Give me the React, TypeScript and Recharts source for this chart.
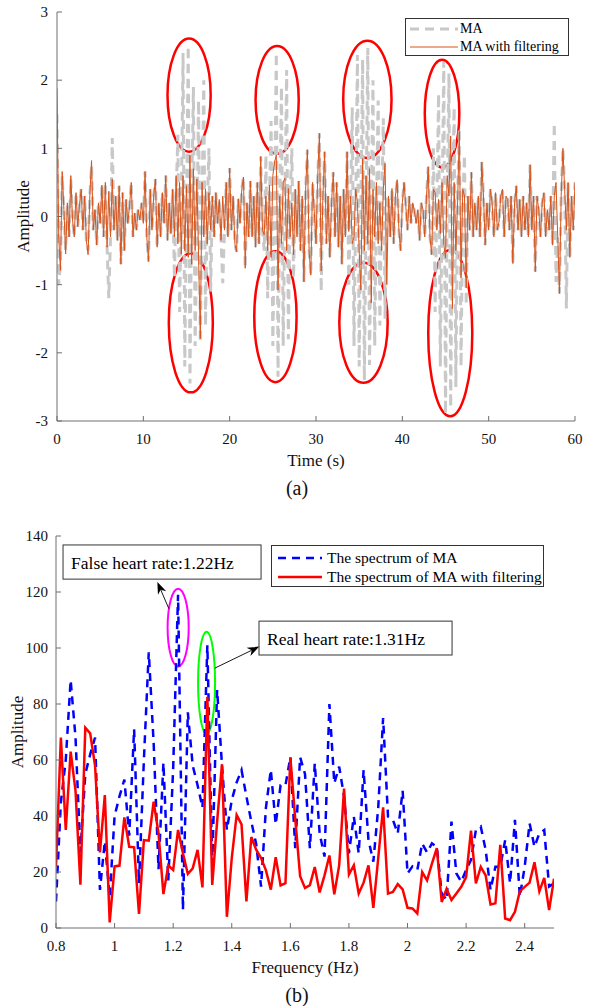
import React from 'react';
import { LineChart, Line, XAxis, YAxis, ReferenceArea, ReferenceLine, Legend } from 'recharts';

const FONT = '"Liberation Serif", "Times New Roman", Times, serif';

// ---------- (a) time-domain signal, sampled every 0.2 s over 60 s ----------
const SAMPLE_STEP_S = 0.2;
const MA = [
  1.5, -1.0, -0.7, 0.6, 0.1, -0.5, 0.2, -0.3, 0.55, -0.05,
  -0.3, 0.35, -0.15, 0.17, 0.4, -0.2, 0.3, -0.35, -0.5, 0.3,
  0.75, -0.2, 0.1, -0.42, 0.2, -0.1, 0.46, -0.3, 0.5, -0.45,
  -1.2, -0.3, 1.15, -0.2, 0.3, -0.35, 0.45, -0.7, 0.35, -0.5,
  0.25, -0.1, 0.15, 0.5, -0.3, 0.05, -0.2, 0.1, -0.05, 0.2,
  -0.1, 0.66, -0.3, -0.66, 0.4, -0.2, 0.3, 0.55, -0.45, 0.2,
  -0.3, 0.35, -0.1, 0.6, -0.35, 0.2, -0.25, 0.4, -0.9, 0.3,
  1.2, -1.4, 0.2, 2.4, -2.2, 0.1, 2.5, -2.45, 0.3, 1.9,
  -1.9, -0.2, 1.7, -1.85, 0.2, 2.0, -1.6, 0.1, 1.0, -1.1,
  0.3, -0.3, 0.35, -0.1, 0.25, -0.35, -0.98, -0.2, 0.5, -0.3,
  0.71, -0.2, 0.3, -0.4, -0.52, 0.26, -0.1, 0.4, 0.58, -0.76,
  0.2, -0.3, 0.52, -0.3, 0.3, -0.45, 0.5, -0.4, 0.88, -0.2,
  -0.5, 0.9, -1.2, 0.2, 1.4, -1.9, 0.1, 2.4, -2.35, 0.2,
  1.9, -1.9, 0.1, 2.15, -1.8, 0.3, 1.0, -0.9, 0.4, -0.3,
  0.52, -0.5, 0.3, -0.96, 0.4, 0.98, -0.5, -0.86, 0.5, 0.07,
  -0.4, 0.6, 1.22, -1.1, 0.3, 0.95, -0.4, 0.3, -0.6, 0.2,
  0.65, -0.3, 0.5, -0.45, 0.3, -0.7, 0.4, -0.3, 0.95, -1.0,
  0.2, 1.6, -1.9, 0.1, 2.37, -2.2, 0.2, 2.3, -2.4, 0.1,
  2.47, -2.18, 0.2, 2.0, -1.9, 0.1, 1.7, -1.6, 0.2, 1.44,
  -1.5, 0.3, 0.3, -0.3, 0.41, -0.4, 0.3, 0.54, -0.2, -0.5,
  0.2, 0.5, 0.16, -0.2, 0.3, -0.1, 0.2, 0.08, -0.1, 0.1,
  -0.35, 0.2, 0.1, -0.3, 0.3, 0.73, -0.3, -0.56, 1.0, -1.4,
  0.2, 1.8, -2.2, 0.1, 2.27, -2.9, 0.3, 2.1, -2.8, 0.2,
  1.6, -2.5, 0.3, 1.3, -2.2, 0.2, 0.9, -1.3, 0.3, -0.2,
  0.65, -0.3, 0.2, -0.2, 0.3, -0.3, 0.8, 0.3, -0.42, 0.2,
  -0.2, 0.4, 0.2, -0.3, 0.35, -0.2, -0.08, 0.3, 0.4, -0.3,
  0.3, 0.25, -0.2, 0.3, -0.69, 0.2, 0.45, -0.2, 0.25, -0.3,
  0.3, -0.2, 0.2, -0.3, 0.76, -0.2, 0.3, -0.81, 0.3, 0.1,
  -0.3, 0.2, 0.35, -0.3, 0.1, -0.2, 0.3, -0.42, 1.37, -0.96,
  -0.3, -1.13, 0.3, 1.0, 0.4, -1.35, 0.5, -0.6, 0.3, -0.2,
  0.5,
];
const MA_FILTERED = [
  1.88, -0.3, -0.79, 0.66, 0.1, -0.55, 0.2, -0.3, 0.6, -0.05,
  -0.3, 0.35, -0.15, 0.17, 0.4, -0.2, 0.3, -0.35, -0.56, 0.3,
  0.82, -0.2, 0.1, -0.42, 0.2, -0.1, 0.46, -0.3, 0.5, -0.45,
  0.37, -0.3, 0.55, -0.2, 0.3, -0.35, 0.45, -0.7, 0.35, -0.5,
  0.25, -0.1, 0.15, 0.5, -0.3, 0.05, -0.2, 0.1, -0.05, 0.2,
  -0.1, 0.66, -0.3, -0.66, 0.4, -0.2, 0.3, 0.55, -0.45, 0.2,
  -0.3, 0.35, -0.1, 0.6, -0.35, 0.2, -0.25, 0.4, -0.3, 0.6,
  -0.4, 0.5, -0.55, 0.6, -0.5, 0.45, -0.6, 0.9, -0.7, 0.7,
  -0.5, 0.55, -0.6, -1.79, 0.5, -0.3, 0.4, -0.4, 0.35, -0.2,
  0.3, -0.3, 0.35, -0.1, 0.25, -0.35, 0.3, -0.2, 0.5, -0.3,
  0.71, -0.2, 0.3, -0.4, -0.52, 0.26, -0.1, 0.4, 0.58, -0.76,
  0.2, -0.3, 0.52, -0.3, 0.3, -0.45, 0.5, -0.4, 0.88, -0.2,
  -0.27, 0.3, -0.5, 0.46, -0.6, 0.6, 0.8, 0.9, -1.08, 0.3,
  -0.4, 0.5, 0.56, -0.5, 0.41, -0.3, 0.2, -0.56, 0.4, -0.3,
  0.52, -0.5, 0.3, -0.96, 0.4, 0.98, -0.5, -0.86, 0.5, 0.07,
  -0.4, 0.6, 1.22, -0.8, 0.3, 0.95, -0.4, 0.3, -0.6, 0.2,
  0.65, -0.3, 0.5, -0.45, 0.3, -0.7, 0.4, -0.3, 0.95, -0.22,
  0.3, -0.4, -0.3, 0.4, 0.2, -0.5, -1.08, 0.85, -0.5, 0.6,
  -0.4, 0.7, -1.27, 0.4, -0.3, 0.5, -0.4, 0.2, -0.5, 0.4,
  0.78, -1.0, 0.3, -0.3, 0.41, -0.4, 0.3, 0.54, -0.2, -0.5,
  0.2, 0.5, 0.16, -0.2, 0.3, -0.1, 0.2, 0.08, -0.1, 0.1,
  -0.35, 0.2, 0.1, -0.3, 0.3, 0.73, -0.3, -0.56, 0.4, 0.35,
  -0.2, 0.25, -0.25, 0.5, -0.4, -0.61, 0.6, 0.3, 1.18, -1.35,
  0.5, -0.5, 0.2, 1.25, -0.9, 0.4, 0.3, -1.05, 0.3, -0.2,
  0.65, -0.3, 0.2, -0.2, 0.3, -0.3, 0.8, 0.3, -0.42, 0.2,
  -0.2, 0.4, 0.2, -0.3, 0.35, -0.2, -0.08, 0.3, 0.4, -0.3,
  0.3, 0.25, -0.2, 0.3, -0.69, 0.2, 0.45, -0.2, 0.25, -0.3,
  0.3, -0.2, 0.2, -0.3, 0.76, -0.2, 0.3, -0.81, 0.3, 0.1,
  -0.3, 0.2, 0.35, -0.3, 0.1, -0.2, 0.3, -0.42, 0.3, 0.5,
  -0.3, -1.13, 0.3, 1.0, 0.4, -0.2, 0.5, -0.6, 0.3, -0.2,
  0.5,
];
const TIME_TICKS = [0, 10, 20, 30, 40, 50, 60];
const AMP_TICKS_A = [-3, -2, -1, 0, 1, 2, 3];

// MA bursts circled in red: [t1, t2, amp1, amp2]
const BURSTS_A = [
  [12.8, 17.8, 0.95, 2.61],
  [23.0, 28.0, 0.92, 2.5],
  [33.15, 38.75, 0.86, 2.58],
  [42.6, 46.6, 0.72, 2.3],
  [12.95, 18.05, -2.58, -0.54],
  [22.85, 27.75, -2.43, -0.51],
  [32.7, 38.3, -2.44, -0.68],
  [43.0, 48.1, -2.93, -0.49],
];

// ---------- (b) spectrum, FFT bins k/60 Hz for k = 48..150 ----------
const WINDOW_S = 60;
const FIRST_BIN = 48;
const SPEC_MA = [
  9.5, 45, 60, 88.5, 68, 27, 55, 62, 68, 13.6,
  31, 11, 40, 47, 53, 33, 71, 16, 60, 98.5,
  66, 21, 59, 17, 57, 119, 6.5, 77, 58, 51,
  43, 101, 23, 85, 58, 35, 45.7, 52, 56.4, 47,
  38, 30, 14.8, 43, 56.5, 37, 51, 51, 61, 28.5,
  61, 55, 28.5, 58.8, 33.8, 25.5, 80, 51.7, 57.6, 47,
  26.7, 39.8, 26.7, 56.4, 31.4, 23.7, 43, 75, 39.8, 38.6,
  33.8, 49, 19.5, 22, 20.7, 30.2, 27, 30.2, 29, 12.4,
  10, 38, 19.5, 16.5, 20.7, 24.3, 35, 36.2, 27.9, 13.6,
  21.9, 21.9, 31.4, 16, 38.6, 11.2, 21.9, 37.4, 29, 33.8,
  35, 14.8, 16,
];
const SPEC_MA_FILTERED = [
  22, 68, 35, 63, 49, 15.5, 71.5, 69.5, 58, 27,
  47.5, 2, 22, 22.3, 39.5, 29, 28.8, 5, 31.4, 31.2,
  45.1, 33.8, 12.1, 22.3, 20.7, 35, 26.7, 19.3, 21.3, 27.9,
  14.5, 82.6, 15.4, 38, 58.5, 4, 25, 40.4, 37, 9.5,
  32.5, 28, 25, 20.6, 13.7, 25.3, 15.2, 16, 61, 39,
  18.5, 14.3, 15.3, 21.8, 12.7, 18.8, 25.9, 12, 22.4, 49.8,
  19.1, 22.4, 12.3, 16.2, 22.4, 7.2, 25, 43.1, 12.3, 12.9,
  15.7, 13.8, 7.2, 7, 5.2, 20, 17, 23, 28.5, 9.3,
  14, 10, 12.3, 14.7, 18.2, 34.8, 15.9, 21.8, 18.8, 8.4,
  8.8, 29.7, 3.4, 2.8, 5.8, 13.1, 14.7, 16.2, 23.5, 13.1,
  17.9, 6.4, 17.6,
];
const FREQ_TICKS = [0.8, 1, 1.2, 1.4, 1.6, 1.8, 2, 2.2, 2.4];
const AMP_TICKS_B = [0, 20, 40, 60, 80, 100, 120, 140];

const dataA = MA.map((v, i) => ({ t: Math.round(i * SAMPLE_STEP_S * 10) / 10, ma: v, maf: MA_FILTERED[i] }));
const dataB = SPEC_MA.map((v, i) => ({ f: (FIRST_BIN + i) / WINDOW_S, ma: v, maf: SPEC_MA_FILTERED[i] }));

const SERIES_A = [
  { key: 'ma', name: 'MA', color: '#c8c8c8', width: 3, dash: '9 6' },
  { key: 'maf', name: 'MA with filtering', color: '#d95319', width: 1, dash: undefined as string | undefined },
];
const SERIES_B = [
  { key: 'ma', name: 'The spectrum of MA', color: '#0000ff', width: 2.5, dash: '8 6' },
  { key: 'maf', name: 'The spectrum of MA with filtering', color: '#ff0000', width: 2.5, dash: undefined as string | undefined },
];

const AXIS_COLOR = '#6e6e6e';
const TEXT_COLOR = '#111';

const tickStyle = { fill: TEXT_COLOR, fontSize: 15, fontFamily: FONT };

const yTitle = (dx: number) => (props: any) => {
  const vb = props.viewBox;
  const x = vb.x + dx;
  const y = vb.y + vb.height / 2;
  return (
    <text x={x} y={y} transform={`rotate(-90 ${x} ${y})`} textAnchor="middle" dominantBaseline="central"
      fill={TEXT_COLOR} fontSize={17} fontFamily={FONT}>Amplitude</text>
  );
};

const xTitle = (title: string, caption: string, captionX: number) => (props: any) => {
  const vb = props.viewBox;
  return (
    <g>
      <text x={vb.x + vb.width / 2} y={vb.y + 39} textAnchor="middle" dominantBaseline="central"
        fill={TEXT_COLOR} fontSize={17} fontFamily={FONT}>{title}</text>
      <text x={captionX} y={vb.y + 67} textAnchor="middle" dominantBaseline="central"
        fill={TEXT_COLOR} fontSize={20} fontFamily={FONT}>{caption}</text>
    </g>
  );
};

const ellipseShape = (color: string, w: number) => (p: any) => (
  <ellipse cx={p.x + p.width / 2} cy={p.y + p.height / 2} rx={Math.abs(p.width) / 2} ry={Math.abs(p.height) / 2}
    fill="none" stroke={color} strokeWidth={w} />
);

const noteShape = (label: string) => (p: any) => (
  <g>
    <rect x={p.x} y={p.y} width={p.width} height={p.height} fill="#fff" stroke="#333" strokeWidth={1} />
    <text x={p.x + 8} y={p.y + p.height / 2 + 1} dominantBaseline="central" fill="#000" fontSize={17.5} fontFamily={FONT}>{label}</text>
  </g>
);

const arrowShape = (p: any) => {
  const { x1, y1, x2, y2 } = p;
  const ang = Math.atan2(y2 - y1, x2 - x1);
  const L = 12;
  const W = 4.5;
  const bx = x2 - L * Math.cos(ang);
  const by = y2 - L * Math.sin(ang);
  const px = -Math.sin(ang) * W;
  const py = Math.cos(ang) * W;
  const nx = x2 - (L * 0.7) * Math.cos(ang);
  const ny = y2 - (L * 0.7) * Math.sin(ang);
  return (
    <g>
      <line x1={x1} y1={y1} x2={nx} y2={ny} stroke="#000" strokeWidth={0.9} />
      <polygon points={`${x2},${y2} ${bx + px},${by + py} ${nx},${ny} ${bx - px},${by - py}`} fill="#000" />
    </g>
  );
};

const legendBox = (series: typeof SERIES_A, opts: { w: number; h: number; fs: number; rowH: number; padTop: number; padLeft: number; lineW: number; gap: number }) => () => (
  <div style={{ boxSizing: 'border-box', width: opts.w, height: opts.h, border: '1px solid #333', background: '#fff',
    fontFamily: FONT, fontSize: opts.fs, color: '#000', paddingTop: opts.padTop, paddingLeft: opts.padLeft }}>
    {series.map((s) => (
      <div key={s.key} style={{ display: 'flex', alignItems: 'center', height: opts.rowH, whiteSpace: 'nowrap' }}>
        <svg width={opts.lineW} height={8} style={{ flex: 'none' }}>
          <line x1={0} y1={4} x2={opts.lineW} y2={4} stroke={s.color} strokeWidth={s.width} strokeDasharray={s.dash} />
        </svg>
        <span style={{ marginLeft: opts.gap, lineHeight: `${opts.rowH}px` }}>{s.name}</span>
      </div>
    ))}
  </div>
);

const LegendA = legendBox(SERIES_A, { w: 164, h: 38, fs: 14, rowH: 18, padTop: 1, padLeft: 4, lineW: 48, gap: 2 });
const LegendB = legendBox(SERIES_B, { w: 273, h: 42, fs: 15.5, rowH: 19, padTop: 2, padLeft: 6, lineW: 44, gap: 5 });

const W = 594;

function ChartA() {
  return (
    <LineChart width={W} height={505} data={dataA} margin={{ top: 12, right: 19, bottom: 0, left: 17 }}>
      <XAxis dataKey="t" type="number" domain={[0, 60]} ticks={TIME_TICKS} height={84} allowDataOverflow
        stroke={AXIS_COLOR} tickSize={-5} tickMargin={17} tick={tickStyle}
        label={{ content: xTitle('Time (s)', '(a)', W / 2) }} />
      <XAxis xAxisId="top" orientation="top" type="number" domain={[0, 60]} ticks={TIME_TICKS} height={0}
        stroke={AXIS_COLOR} tickSize={-5} tick={false} allowDataOverflow />
      <YAxis type="number" domain={[-3, 3]} ticks={AMP_TICKS_A} width={40} allowDataOverflow
        stroke={AXIS_COLOR} tickSize={-5} tickMargin={14} tick={tickStyle}
        label={{ content: yTitle(6) }} />
      <YAxis yAxisId="right" orientation="right" type="number" domain={[-3, 3]} ticks={AMP_TICKS_A} width={0}
        stroke={AXIS_COLOR} tickSize={-5} tick={false} allowDataOverflow />
      {SERIES_A.map((s) => (
        <Line key={s.key} dataKey={s.key} name={s.name} stroke={s.color} strokeWidth={s.width}
          strokeDasharray={s.dash} dot={false} activeDot={false} isAnimationActive={false} type="linear" />
      ))}
      {BURSTS_A.map(([x1, x2, y1, y2], i) => (
        <ReferenceArea key={i} x1={x1} x2={x2} y1={y1} y2={y2} shape={ellipseShape('#ff0000', 2.5)} ifOverflow="visible" />
      ))}
      <Legend layout="vertical" align="center" verticalAlign="middle" content={LegendA}
        wrapperStyle={{ left: 405, top: 18, width: 164, height: 38 }} />
    </LineChart>
  );
}

function ChartB() {
  return (
    <LineChart width={W} height={501} data={dataB} margin={{ top: 31, right: 40, bottom: 0, left: 16 }}>
      <XAxis dataKey="f" type="number" domain={[0.8, 2.5]} ticks={FREQ_TICKS} height={78} allowDataOverflow
        stroke={AXIS_COLOR} tickSize={-5} tickMargin={17} tick={tickStyle}
        label={{ content: xTitle('Frequency (Hz)', '(b)', W / 2) }} />
      <XAxis xAxisId="top" orientation="top" type="number" domain={[0.8, 2.5]} ticks={FREQ_TICKS} height={0}
        stroke={AXIS_COLOR} tickSize={-5} tick={false} allowDataOverflow />
      <YAxis type="number" domain={[0, 140]} ticks={AMP_TICKS_B} width={40} allowDataOverflow
        stroke={AXIS_COLOR} tickSize={-5} tickMargin={13} tick={tickStyle}
        label={{ content: yTitle(1) }} />
      <YAxis yAxisId="right" orientation="right" type="number" domain={[0, 140]} ticks={AMP_TICKS_B} width={0}
        stroke={AXIS_COLOR} tickSize={-5} tick={false} allowDataOverflow />
      {SERIES_B.map((s) => (
        <Line key={s.key} dataKey={s.key} name={s.name} stroke={s.color} strokeWidth={s.width}
          strokeDasharray={s.dash} dot={false} activeDot={false} isAnimationActive={false} type="linear" />
      ))}
      <ReferenceArea x1={1.181} x2={1.253} y1={93.4} y2={121.2} shape={ellipseShape('#ff00ff', 2)} ifOverflow="visible" />
      <ReferenceArea x1={1.285} x2={1.343} y1={69.4} y2={105.8} shape={ellipseShape('#00ff00', 2)} ifOverflow="visible" />
      <ReferenceLine segment={[{ x: 1.185, y: 114.1 }, { x: 1.146, y: 123.6 }]} shape={arrowShape} ifOverflow="visible" />
      <ReferenceLine segment={[{ x: 1.342, y: 92.8 }, { x: 1.494, y: 100.5 }]} shape={arrowShape} ifOverflow="visible" />
      <ReferenceArea x1={0.824} x2={1.5} y1={124.6} y2={136.8} shape={noteShape('False heart rate:1.22Hz')} ifOverflow="visible" />
      <ReferenceArea x1={1.493} x2={2.152} y1={97.5} y2={109.6} shape={noteShape('Real heart rate:1.31Hz')} ifOverflow="visible" />
      <Legend layout="vertical" align="center" verticalAlign="middle" content={LegendB}
        wrapperStyle={{ left: 271, top: 40, width: 273, height: 42 }} />
    </LineChart>
  );
}

export default function App() {
  return (
    <div style={{ position: 'absolute', left: 0, top: 0, width: W, height: 1006, background: '#fff' }}>
      <div style={{ position: 'absolute', left: 0, top: 0 }}>
        <ChartA />
      </div>
      <div style={{ position: 'absolute', left: 0, top: 505 }}>
        <ChartB />
      </div>
    </div>
  );
}
